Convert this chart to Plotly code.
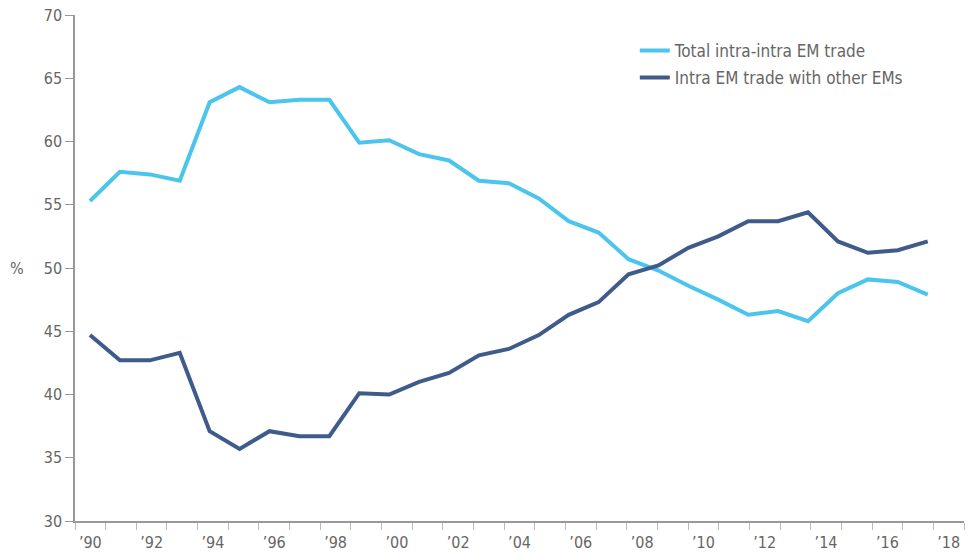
import plotly.graph_objects as go

years = list(range(1990, 2019))
total_intra = [55.3, 57.6, 57.4, 56.9, 63.1, 64.3, 63.1, 63.3, 63.3, 59.9,
               60.1, 59.0, 58.5, 56.9, 56.7, 55.5, 53.7, 52.8, 50.7, 49.8,
               48.6, 47.5, 46.3, 46.6, 45.8, 48.0, 49.1, 48.9, 47.9]
intra_other = [44.7, 42.7, 42.7, 43.3, 37.1, 35.7, 37.1, 36.7, 36.7, 40.1,
               40.0, 41.0, 41.7, 43.1, 43.6, 44.7, 46.3, 47.3, 49.5, 50.2,
               51.6, 52.5, 53.7, 53.7, 54.4, 52.1, 51.2, 51.4, 52.1]
tick_years = list(range(1990, 2019, 2))
tick_labels = ["\u2019" + str(y)[2:] for y in tick_years]

LIGHT = "#4cc5ec"
DARK = "#3e5b8a"
GREY = "#666666"
AXIS = "#999999"
FONT = "DejaVu Sans Condensed, Roboto Condensed, Liberation Sans Narrow, Roboto, sans-serif"

fig = go.Figure()
# invisible carrier so the labelled category axis is drawn
fig.add_trace(go.Scatter(x=years, y=total_intra, mode="lines", opacity=0, showlegend=False,
                         hoverinfo="skip", line=dict(width=0), xaxis="x"))
fig.add_trace(go.Scatter(x=years, y=total_intra, mode="lines", name="Total intra-intra EM trade",
                         line=dict(color=LIGHT, width=4), xaxis="x2", legend="legend",
                         showlegend=True))
fig.add_trace(go.Scatter(x=years, y=intra_other, mode="lines", name="Intra EM trade with other EMs",
                         line=dict(color=DARK, width=4), xaxis="x2", legend="legend2",
                         showlegend=True))

fig.update_layout(
    width=968, height=556,
    margin=dict(l=75, r=4, t=15, b=29),
    showlegend=True,
    paper_bgcolor="white", plot_bgcolor="white",
    font=dict(family=FONT, size=16, color=GREY),
    xaxis=dict(range=[1989.5, 2018.5], tickvals=tick_years, ticktext=tick_labels,
               ticks="", showgrid=False, zeroline=False, showline=True,
               linecolor=AXIS, linewidth=1.5, tickfont=dict(size=16, color=GREY),
               ticklabelstandoff=6,
               minor=dict(tick0=1989.5, dtick=1, ticks="outside", ticklen=7,
                          tickcolor="#bbbbbb", tickwidth=1.2, showgrid=False)),
    xaxis2=dict(range=[1989.499, 2019.213], overlaying="x", anchor="y", visible=False),
    yaxis=dict(range=[30, 70], dtick=5, ticks="outside", ticklen=8, tickcolor=AXIS,
               tickwidth=1.2, showgrid=False, zeroline=False, showline=True,
               linecolor=AXIS, linewidth=1.5, tickfont=dict(size=16, color=GREY),
               ticklabeloverflow="allow"),
    legend=dict(x=0.6297, y=0.929, xanchor="left", yanchor="middle",
                bgcolor="rgba(0,0,0,0)", font=dict(size=17, color=GREY, family=FONT)),
    legend2=dict(x=0.6297, y=0.8757, xanchor="left", yanchor="middle",
                 bgcolor="rgba(0,0,0,0)", font=dict(size=17, color=GREY, family=FONT)),
    annotations=[dict(text="%", xref="paper", yref="paper", x=-0.065, y=0.5,
                      xanchor="center", yanchor="middle", showarrow=False,
                      font=dict(size=16, color=GREY, family=FONT))],
)

fig.write_html("out.html", config={"displayModeBar": False},
               post_script="document.body.style.margin='0';")
